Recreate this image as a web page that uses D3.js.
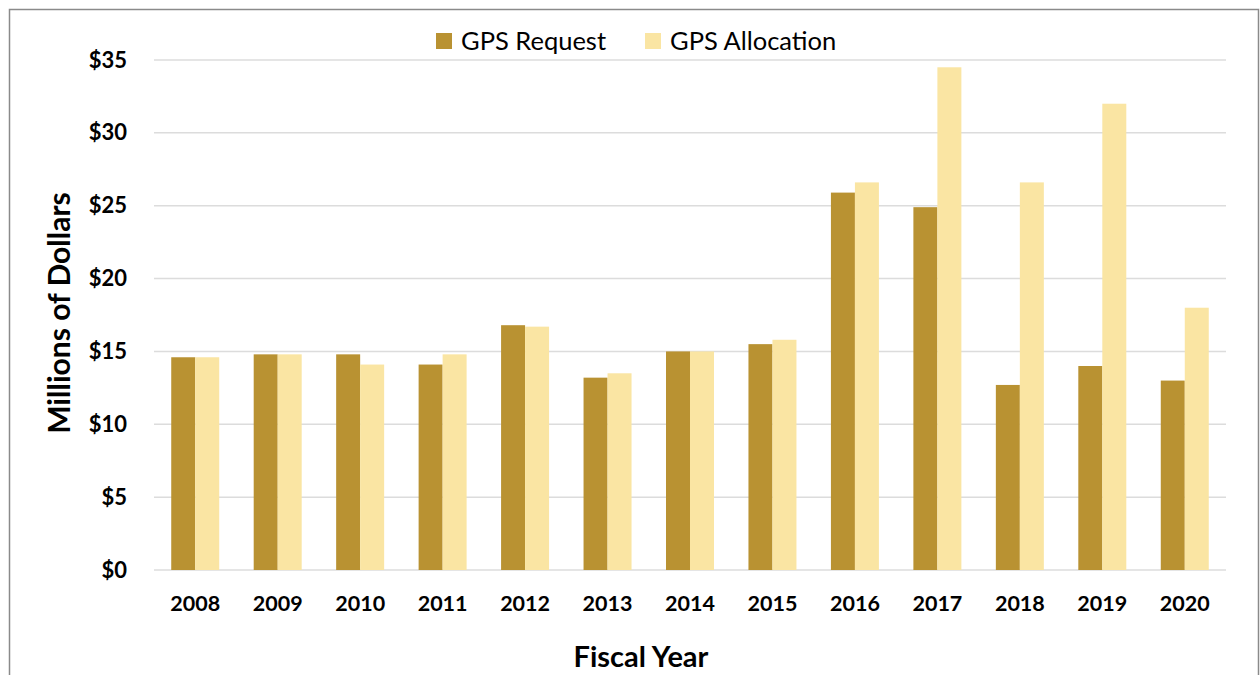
<!DOCTYPE html>
<html>
<head>
<meta charset="utf-8">
<script src="https://cdn.jsdelivr.net/npm/d3@7"></script>
<style>
  body { margin: 0; background: #fff; }
  svg { display: block; font-family: Lato, "Open Sans", sans-serif; }
</style>
</head>
<body>
<svg width="1260" height="675"></svg>
<script>
var years = ["2008", "2009", "2010", "2011", "2012", "2013", "2014", "2015", "2016", "2017", "2018", "2019", "2020"];
var seriesNames = ["GPS Request", "GPS Allocation"];
var requestValues = [14.6, 14.8, 14.8, 14.1, 16.8, 13.2, 15.0, 15.5, 25.9, 24.9, 12.7, 14.0, 13.0];
var allocationValues = [14.6, 14.8, 14.1, 14.8, 16.7, 13.5, 15.0, 15.8, 26.6, 34.5, 26.6, 32.0, 18.0];
var yTicks = [0, 5, 10, 15, 20, 25, 30, 35];
var colors = ["#B99232", "#FAE5A3"];

var data = years.map(function(y, i) {
    return { year: y, values: [requestValues[i], allocationValues[i]] };
});

var svg = d3.select("svg");
var margin = { top: 60, right: 34, bottom: 105, left: 154 };
var width = 1260 - margin.left - margin.right;
var height = 675 - margin.top - margin.bottom;

// outer frame
svg.append("rect")
    .attr("x", 9.5).attr("y", 9.5)
    .attr("width", 1249).attr("height", 700)
    .attr("fill", "none")
    .attr("stroke", "#8a8a8a")
    .attr("stroke-width", 1.5);

var g = svg.append("g")
    .attr("transform", "translate(" + margin.left + "," + margin.top + ")");

var x0 = d3.scaleBand()
    .domain(years)
    .range([0, width])
    .paddingInner(0.418)
    .paddingOuter(0.209);

var x1 = d3.scaleBand()
    .domain([0, 1])
    .range([0, x0.bandwidth()]);

var y = d3.scaleLinear()
    .domain([0, 35])
    .range([height, 0]);

// gridlines
g.append("g")
    .selectAll("line")
    .data(yTicks)
    .enter().append("line")
    .attr("x1", 0).attr("x2", width)
    .attr("y1", function(d) { return y(d); })
    .attr("y2", function(d) { return y(d); })
    .attr("stroke", "#dcdcdc")
    .attr("stroke-width", 1.5);

// y axis labels
var yAxis = g.append("g")
    .attr("transform", "translate(-24,0)")
    .call(d3.axisLeft(y).tickValues(yTicks).tickSize(0).tickFormat(function(d) { return "$" + d; }));
yAxis.select(".domain").remove();
yAxis.selectAll("text")
    .attr("font-size", 22)
    .attr("font-weight", "bold")
    .attr("font-family", "Lato, sans-serif")
    .attr("fill", "#000");

// x axis labels
var xAxis = g.append("g")
    .attr("transform", "translate(0," + height + ")")
    .call(d3.axisBottom(x0).tickSize(0).tickPadding(26));
xAxis.select(".domain").remove();
xAxis.selectAll("text")
    .attr("font-size", 21.5)
    .attr("font-weight", "bold")
    .attr("font-family", "Lato, sans-serif")
    .attr("fill", "#000");

// bars
g.append("g")
    .selectAll("g")
    .data(data)
    .enter().append("g")
    .attr("transform", function(d) { return "translate(" + x0(d.year) + ",0)"; })
    .selectAll("rect")
    .data(function(d) { return d.values.map(function(v, i) { return { i: i, v: v }; }); })
    .enter().append("rect")
    .attr("x", function(d) { return x1(d.i); })
    .attr("width", x1.bandwidth())
    .attr("y", function(d) { return y(d.v); })
    .attr("height", function(d) { return height - y(d.v); })
    .attr("fill", function(d) { return colors[d.i]; });

// axis titles
svg.append("text")
    .attr("transform", "translate(70," + (margin.top + height / 2 - 2) + ") rotate(-90)")
    .attr("text-anchor", "middle")
    .attr("font-size", 30)
    .attr("font-weight", "bold")
    .attr("fill", "#000")
    .text("Millions of Dollars");

svg.append("text")
    .attr("x", 641)
    .attr("y", 667)
    .attr("text-anchor", "middle")
    .attr("font-size", 29)
    .attr("font-weight", "bold")
    .attr("fill", "#000")
    .text("Fiscal Year");

// legend
var legendX = [436, 645];
var legend = svg.append("g")
    .selectAll("g")
    .data(seriesNames)
    .enter().append("g")
    .attr("transform", function(d, i) { return "translate(" + legendX[i] + ",33)"; });
legend.append("rect")
    .attr("width", 16).attr("height", 16)
    .attr("fill", function(d, i) { return colors[i]; });
legend.append("text")
    .attr("x", 25)
    .attr("y", 17)
    .attr("font-size", 25.5)
    .attr("fill", "#000")
    .text(function(d) { return d; });
</script>
</body>
</html>
